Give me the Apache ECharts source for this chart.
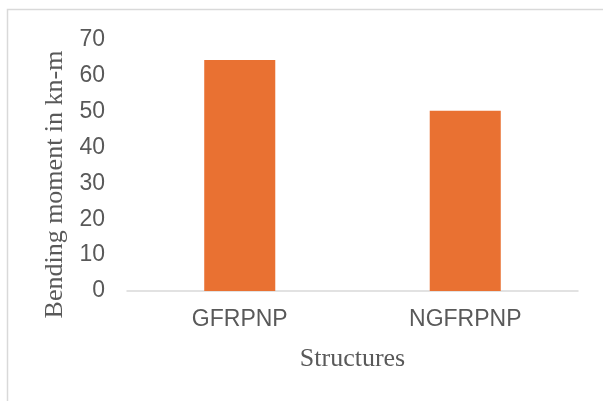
<!DOCTYPE html>
<html><head><meta charset="utf-8">
<script src="https://cdn.jsdelivr.net/npm/echarts@6/dist/echarts.min.js"></script>
<style>html,body{margin:0;padding:0;background:#fff}#c{width:603px;height:401px}</style>
</head><body><div id="c"></div>
<script>
const categories = ['GFRPNP', 'NGFRPNP'];
const bendingMoment = [64.4, 50.3];
const yTicks = [0, 10, 20, 30, 40, 50, 60, 70];

const chart = echarts.init(document.getElementById('c'), null, {renderer: 'canvas'});
chart.setOption({
  animation: false,
  backgroundColor: '#ffffff',
  graphic: [{
    type: 'rect', shape: {x: 7.5, y: 9.5, width: 800, height: 600},
    style: {fill: 'none', stroke: '#d9d9d9', lineWidth: 1.5}, silent: true
  }],
  grid: {left: 127, right: 25, top: 40, bottom: 110},
  xAxis: {
    type: 'category', data: categories,
    name: 'Structures', nameLocation: 'middle', nameGap: 55,
    nameTextStyle: {fontFamily: 'Liberation Serif', fontSize: 26, color: '#595959'},
    axisLine: {lineStyle: {color: '#d9d9d9', width: 1.5}},
    axisTick: {show: false},
    axisLabel: {fontFamily: 'Liberation Sans', fontSize: 23, color: '#595959', margin: 17}
  },
  yAxis: {
    type: 'value', min: yTicks[0], max: yTicks[yTicks.length - 1], interval: 10,
    name: 'Bending moment in kn-m', nameLocation: 'middle', nameGap: 48,
    nameTextStyle: {fontFamily: 'Liberation Serif', fontSize: 26, color: '#595959', padding: [0, 38, 0, 0]},
    axisLine: {show: false}, axisTick: {show: false}, splitLine: {show: false},
    axisLabel: {fontFamily: 'Liberation Sans', fontSize: 23, color: '#595959', margin: 22}
  },
  series: [{
    type: 'bar', data: bendingMoment, barWidth: '31.5%',
    itemStyle: {color: '#E97132'}
  }]
});
</script></body></html>
